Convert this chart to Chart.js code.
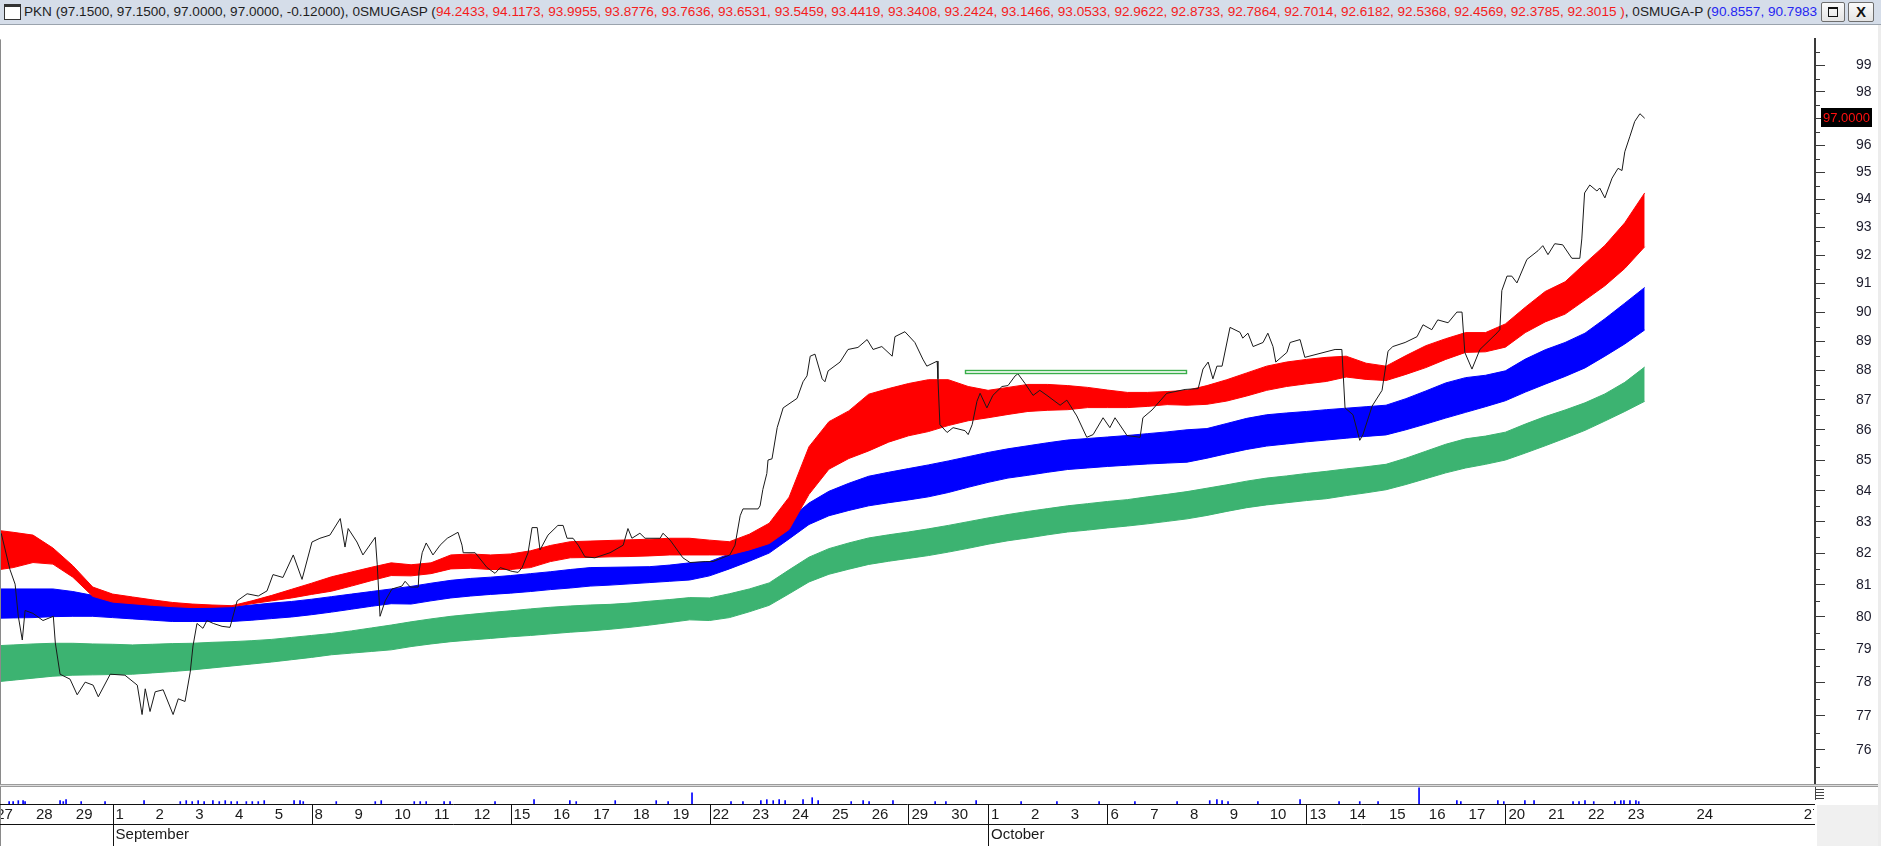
<!DOCTYPE html>
<html>
<head>
<meta charset="utf-8">
<script src="https://cdn.jsdelivr.net/npm/chart.js@4.4.1/dist/chart.umd.min.js"></script>
<style>
  html, body { margin: 0; padding: 0; background: #fff; overflow: hidden; }
  #wrap { position: relative; width: 1881px; height: 846px; }
  canvas { position: absolute; left: 0; top: 0; }
  #bar { position: absolute; left: 0; top: 0; width: 1881px; height: 24px; background: #d5dde9; border-bottom: 1px solid #9aa3ad; overflow: hidden; font-family: "Liberation Sans", Arial, sans-serif; }
  #icon { position: absolute; left: 4px; top: 4px; width: 15px; height: 12px; background: #fff; border: 1px solid #333; border-top: 3px solid #333; }
  #title { position: absolute; left: 24px; top: 0; width: 1796px; line-height: 24px; white-space: nowrap; overflow: hidden; color: #1e1e1e; font-size: 13px; }
  #title .r { color: #f41c1c; }
  #title .b { color: #2626f2; }
  .btn { position: absolute; top: 2px; height: 20px; box-sizing: border-box; background: linear-gradient(#fbfbfb, #e4e4e4); border: 1px solid #6e6e6e; border-radius: 2px; }
  #bmax { left: 1821px; width: 24px; }
  #bmax::after { content: ''; position: absolute; left: 6px; top: 4px; width: 10px; height: 10px; box-sizing: border-box; border: 1.5px solid #111; border-top-width: 2.5px; }
  #bclose { left: 1848px; width: 26px; text-align: center; line-height: 18px; font: bold 15px "Liberation Sans", Arial, sans-serif; color: #111; }
</style>
</head>
<body>
<div id="wrap">
  <canvas id="chart" width="1881" height="846"></canvas>
  <div id="bar">
    <div id="icon"></div>
    <div id="title"></div>
    <div class="btn" id="bmax"></div>
    <div class="btn" id="bclose">X</div>
  </div>
</div>
<script>
// trading days shown on the time axis (27 Aug .. 23 Oct), index = position on x
const dayLabels = ['27','28','29','1','2','3','4','5','8','9','10','11','12','15','16','17','18','19',
  '22','23','24','25','26','29','30','1','2','3','6','7','8','9','10','13','14','15','16','17','20','21','22','23'];
const weekStarts = [3, 8, 13, 18, 23, 28, 33, 38];
const monthStarts = [3, 25];
const monthNames = ['September', 'October'];
const futureLabels = ['24', '27'];
const futureAt = [42.8, 45.5];

// y axis (log scale) ticks
const yTicks = [76,77,78,79,80,81,82,83,84,85,86,87,88,89,90,91,92,93,94,95,96,97,98,99];

// header values
const quote = ['97.1500', '97.1500', '97.0000', '97.0000', '-0.12000'];
const shortLast = ['94.2433','94.1173','93.9955','93.8776','93.7636','93.6531','93.5459','93.4419','93.3408','93.2424',
  '93.1466','93.0533','92.9622','92.8733','92.7864','92.7014','92.6182','92.5368','92.4569','92.3785','92.3015'];
const longFirst = ['90.8557', '90.7983'];
const lastClose = 97.0;

// PKN intraday price (x = trading day index)
const priceT = [0.20,0.42,0.55,0.63,0.73,0.80,1.00,1.25,1.51,1.56,1.68,1.93,2.11,2.31,2.51,2.64,2.94,3.31,3.62,3.74,
  3.82,3.94,4.07,4.27,4.52,4.65,4.82,4.95,5.02,5.12,5.27,5.37,5.53,5.75,5.95,6.13,6.38,6.66,6.88,7.03,
  7.28,7.54,7.76,8.01,8.21,8.46,8.72,8.84,8.92,9.14,9.29,9.60,9.65,9.72,9.85,10.02,10.27,10.35,10.48,10.68,
  10.70,10.78,10.88,11.05,11.23,11.41,11.68,11.78,11.81,12.11,12.41,12.61,12.74,13.04,13.19,13.29,13.44,13.54,13.67,13.74,
  13.94,14.19,14.32,14.42,14.57,14.70,14.87,15.12,15.50,15.83,15.95,16.05,16.25,16.38,16.76,16.83,17.01,17.33,17.51,17.89,
  18.09,18.51,18.64,18.77,18.84,19.22,19.27,19.34,19.44,19.47,19.57,19.70,19.85,20.20,20.35,20.45,20.53,20.65,20.83,20.90,
  20.98,21.28,21.48,21.73,21.96,22.11,22.33,22.59,22.66,22.91,23.16,23.36,23.46,23.72,23.74,23.79,23.97,24.12,24.42,24.50,
  24.60,24.72,24.80,24.97,25.12,25.35,25.50,25.68,25.75,25.93,26.13,26.30,26.48,26.81,26.98,27.23,27.48,27.64,27.89,28.06,
  28.19,28.49,28.82,28.89,29.12,29.49,29.95,30.28,30.40,30.53,30.65,30.75,30.88,31.08,31.33,31.40,31.53,31.66,31.91,32.03,
  32.16,32.23,32.51,32.59,32.84,32.96,33.72,33.89,33.97,34.17,34.34,34.42,34.65,34.90,35.05,35.17,35.48,35.78,35.93,36.15,
  36.30,36.56,36.78,36.91,36.98,37.16,37.36,37.79,37.86,37.91,38.04,38.16,38.29,38.54,38.82,38.94,39.07,39.24,39.44,39.67,
  39.87,39.92,39.99,40.12,40.30,40.37,40.50,40.68,40.83,40.93,41.00,41.13,41.25,41.38,41.50];
const priceV = [82.63,81.48,81.02,80.02,79.29,80.20,80.11,79.89,80.02,79.20,78.25,78.10,77.63,78.01,77.92,77.57,78.25,78.22,77.92,77.04,
  77.81,77.13,77.72,77.78,77.04,77.51,77.43,78.31,79.11,79.80,79.65,79.89,79.80,79.71,79.68,80.50,80.72,80.65,80.81,81.32,
  81.23,81.94,81.17,82.35,82.47,82.57,83.10,82.19,82.78,82.35,81.94,82.50,81.63,80.02,80.50,80.87,80.96,81.11,80.93,80.93,
  81.42,82.01,82.32,81.94,82.25,82.47,82.66,82.25,82.01,82.01,81.54,81.36,81.54,81.42,81.39,81.54,82.01,82.81,82.81,82.10,
  82.57,82.88,82.88,82.47,82.47,82.25,81.88,81.85,82.01,82.25,82.78,82.47,82.63,82.47,82.47,82.63,82.41,81.85,81.70,81.73,
  81.73,81.94,82.25,83.19,83.41,83.41,83.51,84.04,84.56,85.00,85.04,86.07,86.73,87.05,87.61,87.81,88.48,88.55,87.71,87.61,
  87.98,88.28,88.71,88.78,89.05,88.71,88.81,88.48,89.15,89.32,88.95,88.38,88.14,88.31,87.71,86.17,85.91,86.07,85.97,85.84,
  86.17,86.95,87.22,86.73,87.15,87.45,87.48,87.81,87.88,87.55,87.15,87.32,87.15,86.82,86.99,86.46,85.75,85.84,86.40,86.07,
  86.40,85.81,85.75,86.40,86.66,87.22,87.35,87.38,88.04,88.28,87.71,88.14,88.14,89.47,89.30,89.10,89.27,88.81,88.95,89.27,
  88.81,88.28,88.61,88.95,89.05,88.44,88.71,88.71,86.73,86.50,85.65,85.84,86.79,87.32,88.65,88.81,88.95,89.15,89.56,89.39,
  89.73,89.63,90.00,90.00,88.61,88.04,88.71,89.28,89.39,90.75,91.26,91.26,91.02,91.85,92.16,92.34,92.02,92.41,92.37,91.89,
  91.89,92.58,94.24,94.53,94.31,94.42,94.06,94.78,95.14,95.06,95.75,96.33,96.88,97.17,97.00];

// moving-average ribbons, sampled every half trading day: upper and lower edge of each group
const ribbonT = Array.from({ length: 84 }, (_, k) => k / 2);
const shortTop = [82.74,82.66,82.57,82.16,81.60,80.93,80.71,80.62,80.53,80.45,80.40,80.37,80.35,80.50,80.67,80.86,81.05,81.25,81.40,81.55,
  81.69,81.63,81.69,81.94,81.97,81.94,81.97,82.07,82.24,82.36,82.38,82.40,82.42,82.44,82.47,82.47,82.41,82.36,82.60,82.95,
  83.79,85.44,86.27,86.63,87.19,87.38,87.55,87.68,87.68,87.45,87.32,87.42,87.52,87.52,87.48,87.42,87.33,87.25,87.25,87.28,
  87.32,87.48,87.68,87.91,88.14,88.28,88.37,88.44,88.48,88.24,88.14,88.50,88.84,89.08,89.29,89.29,89.59,90.17,90.72,91.06,
  91.71,92.35,93.16,94.24];
const shortBottom = [81.45,81.54,81.70,81.65,81.24,80.64,80.46,80.41,80.36,80.32,80.29,80.30,80.32,80.41,80.50,80.59,80.70,80.80,80.96,81.13,
  81.29,81.28,81.35,81.50,81.52,81.48,81.48,81.54,81.73,81.85,81.86,81.88,81.89,81.91,81.94,81.94,81.94,81.94,82.10,82.30,
  82.75,83.88,84.70,85.05,85.30,85.59,85.80,85.94,86.14,86.30,86.40,86.51,86.61,86.65,86.67,86.74,86.74,86.74,86.78,86.84,
  86.82,86.85,86.96,87.13,87.32,87.45,87.54,87.62,87.77,87.69,87.65,87.86,88.09,88.37,88.61,88.63,88.79,89.29,89.66,89.93,
  90.42,90.92,91.53,92.30];
const midTop = [80.87,80.87,80.87,80.87,80.79,80.67,80.57,80.49,80.41,80.35,80.34,80.33,80.32,80.37,80.43,80.48,80.55,80.63,80.71,80.79,
  80.87,80.95,81.05,81.14,81.20,81.24,81.29,81.35,81.41,81.48,81.54,81.55,81.56,81.57,81.62,81.69,81.73,81.97,82.23,82.53,
  83.07,83.60,83.98,84.24,84.47,84.60,84.72,84.84,84.97,85.11,85.25,85.37,85.47,85.57,85.66,85.71,85.76,85.81,85.87,85.93,
  86.00,86.04,86.21,86.38,86.50,86.56,86.61,86.67,86.72,86.77,86.82,87.04,87.30,87.57,87.75,87.83,87.98,88.38,88.70,88.95,
  89.27,89.77,90.31,90.86];
const midBottom = [79.96,79.97,79.98,80.01,80.02,80.02,79.98,79.94,79.90,79.86,79.86,79.86,79.86,79.90,79.95,80.00,80.07,80.15,80.24,80.33,
  80.41,80.40,80.50,80.59,80.65,80.70,80.74,80.79,80.85,80.90,80.96,80.99,81.03,81.07,81.11,81.15,81.28,81.50,81.74,82.00,
  82.45,82.91,83.19,83.36,83.51,83.61,83.70,83.80,83.94,84.11,84.27,84.41,84.50,84.60,84.69,84.74,84.79,84.83,84.87,84.90,
  84.93,85.06,85.21,85.35,85.46,85.53,85.60,85.66,85.72,85.78,85.83,86.00,86.19,86.39,86.58,86.77,86.97,87.26,87.53,87.79,
  88.08,88.48,88.90,89.38];
const longTop = [79.11,79.14,79.17,79.19,79.19,79.17,79.16,79.14,79.16,79.18,79.19,79.22,79.24,79.27,79.31,79.37,79.43,79.49,79.57,79.66,
  79.75,79.85,79.94,80.02,80.08,80.14,80.19,80.25,80.30,80.34,80.37,80.39,80.43,80.49,80.54,80.60,80.59,80.72,80.87,81.06,
  81.47,81.87,82.14,82.32,82.48,82.58,82.67,82.77,82.88,83.00,83.12,83.23,83.33,83.42,83.51,83.58,83.65,83.71,83.80,83.88,
  83.97,84.08,84.19,84.31,84.41,84.48,84.56,84.63,84.71,84.78,84.86,85.06,85.29,85.52,85.70,85.79,85.92,86.19,86.44,86.66,
  86.90,87.20,87.59,88.11];
const longBottom = [78.01,78.07,78.13,78.19,78.22,78.23,78.24,78.25,78.29,78.33,78.38,78.44,78.50,78.56,78.62,78.69,78.76,78.84,78.89,78.94,
  78.99,79.09,79.17,79.24,79.29,79.34,79.39,79.43,79.48,79.53,79.57,79.62,79.68,79.75,79.83,79.91,79.89,79.98,80.16,80.36,
  80.72,81.09,81.33,81.49,81.64,81.74,81.83,81.92,82.03,82.15,82.28,82.39,82.48,82.58,82.67,82.73,82.80,82.86,82.93,83.01,
  83.09,83.20,83.33,83.45,83.54,83.61,83.68,83.74,83.84,83.93,84.03,84.20,84.39,84.58,84.74,84.86,85.00,85.23,85.47,85.72,
  85.98,86.29,86.61,86.95];

// volume ticks in the small lower pane
const volT = [0.40,0.50,0.63,0.75,0.80,1.68,1.76,1.83,2.21,2.81,3.79,4.70,4.85,5.00,5.15,5.30,5.52,5.68,5.83,5.98,
  6.13,6.36,6.51,6.66,6.81,7.56,7.71,7.79,8.62,9.60,9.75,10.58,10.73,10.88,11.33,11.48,12.61,13.59,14.49,14.65,
  15.63,16.66,16.96,17.56,18.54,18.84,19.29,19.44,19.60,19.75,19.90,20.35,20.58,20.73,21.56,21.86,22.01,22.61,23.67,23.94,
  24.70,25.83,26.73,27.79,28.69,29.75,30.57,30.75,30.88,31.03,31.78,32.84,33.82,34.34,34.80,35.83,36.78,36.88,37.81,37.96,
  38.49,38.72,39.70,39.85,40.00,40.22,40.75,40.90,40.98,41.13,41.28,41.35];
const volV = [2,2,3,3,2,3,2,4,2,2,3,2,3,2,3,2,3,2,3,2,
  2,2,2,2,3,3,3,2,2,2,3,2,2,2,2,2,2,4,3,2,
  3,3,2,11,2,2,3,4,3,4,3,4,6,3,2,3,2,3,2,2,
  3,2,2,2,2,2,3,4,3,2,2,4,2,2,2,16,3,2,3,2,
  3,3,2,2,3,2,2,3,3,3,3,2];

// horizontal level marker drawn on the chart
const markerFrom = 24.42, markerTo = 29.97, markerHigh = 88.0, markerLow = 87.9;

// ---- header text ----
const title = document.getElementById('title');
title.innerHTML = 'PKN (' + quote.join(', ') + '), 0SMUGASP (<span class="r">' + shortLast.join(', ') +
  ' )</span>, 0SMUGA-P (<span class="b">' + longFirst.join(', ') + '</span>';
const mctx = document.createElement('canvas').getContext('2d');
mctx.font = '13px "Liberation Sans"';
title.style.fontSize = (13 * 1795 / mctx.measureText(title.textContent).width).toFixed(2) + 'px';

const pts = (xs, ys) => ys.map((v, i) => ({ x: xs[i], y: v }));
const band = (color, top, bottom) => [
  { data: pts(ribbonT, top), borderColor: color, borderWidth: 1, fill: false },
  { data: pts(ribbonT, bottom), borderColor: color, borderWidth: 1, backgroundColor: color, fill: '-1' }
];

const panels = {
  id: 'panels',
  afterDraw(chart) {
    const { ctx, chartArea: a } = chart;
    const xs = chart.scales.x, ys = chart.scales.y;
    const px = v => xs.getPixelForValue(v);
    const W = chart.width, H = chart.height;
    ctx.save();

    // left border of the window panes
    ctx.fillStyle = '#8a8a8a';
    ctx.fillRect(0, a.top, 1, H - a.top);

    // level marker
    const mx1 = Math.round(px(markerFrom)) + 0.5, mx2 = Math.round(px(markerTo)) + 0.5;
    const my1 = Math.round(ys.getPixelForValue(markerHigh)) + 0.5, my2 = Math.round(ys.getPixelForValue(markerLow)) + 0.5;
    ctx.fillStyle = '#fff';
    ctx.fillRect(mx1, my1, mx2 - mx1, my2 - my1);
    ctx.strokeStyle = '#3aae4a';
    ctx.lineWidth = 1.4;
    ctx.strokeRect(mx1, my1, mx2 - mx1, my2 - my1);

    // minor ticks at half units
    ctx.strokeStyle = '#3a3a3a';
    ctx.lineWidth = 1;
    ctx.beginPath();
    for (let v = 75.5; v < 100; v += 1) {
      const yy = Math.round(ys.getPixelForValue(v)) + 0.5;
      ctx.moveTo(a.right, yy); ctx.lineTo(a.right + 5, yy);
    }
    ctx.stroke();

    // last price tag
    const ly = Math.round(ys.getPixelForValue(lastClose));
    ctx.fillStyle = '#000';
    ctx.fillRect(a.right + 6, ly - 10, 51, 19);
    ctx.fillStyle = '#ff1010';
    ctx.font = '13px "Liberation Sans"';
    ctx.textAlign = 'center';
    ctx.textBaseline = 'middle';
    ctx.fillText(lastClose.toFixed(4), a.right + 31.5, ly);

    // pane separator
    ctx.fillStyle = '#9c9c9c';
    ctx.fillRect(0, a.bottom, W, 1);
    ctx.fillRect(0, a.bottom + 2, W, 1);
    ctx.fillStyle = '#dcdcdc';
    ctx.fillRect(0, a.bottom + 1, W, 1);

    // grip at the right of the volume pane
    ctx.strokeStyle = '#444';
    ctx.beginPath();
    ctx.moveTo(a.right + 0.5, a.bottom + 3); ctx.lineTo(a.right + 0.5, a.bottom + 16);
    for (let i = 0; i < 4; i++) {
      const gy = a.bottom + 5.5 + i * 3;
      ctx.moveTo(a.right, gy); ctx.lineTo(a.right + 9, gy);
    }
    ctx.stroke();

    // date rows
    const r1 = 804, r2 = 824;
    ctx.fillStyle = '#f0f0f0';
    ctx.fillRect(a.right + 2, r1 + 1, W - a.right - 2, H - r1);
    ctx.strokeStyle = '#111';
    ctx.beginPath();
    ctx.moveTo(0, r1 + 0.5); ctx.lineTo(a.right, r1 + 0.5);
    ctx.moveTo(0, r2 + 0.5); ctx.lineTo(a.right, r2 + 0.5);
    weekStarts.concat(monthStarts).forEach(i => {
      const sx = Math.round(px(i)) + 0.5;
      ctx.moveTo(sx, r1); ctx.lineTo(sx, r2);
    });
    monthStarts.forEach(i => {
      const sx = Math.round(px(i)) + 0.5;
      ctx.moveTo(sx, r2); ctx.lineTo(sx, H);
    });
    ctx.stroke();

    ctx.beginPath();
    ctx.rect(1, r1, a.right - 2, H - r1);
    ctx.clip();
    ctx.fillStyle = '#1a1a1a';
    ctx.textAlign = 'left';
    ctx.textBaseline = 'middle';
    ctx.font = '15px "Liberation Sans"';
    dayLabels.forEach((d, i) => ctx.fillText(d, px(i) + 3, 815));
    futureLabels.forEach((d, i) => ctx.fillText(d, px(futureAt[i]), 815));
    monthNames.forEach((m, i) => ctx.fillText(m, px(monthStarts[i]) + 3, 835));

    ctx.restore();

    // thin strip at the right window edge
    ctx.fillStyle = '#ececec';
    ctx.fillRect(W - 3, 25, 3, H - 25);
  }
};

new Chart(document.getElementById('chart'), {
  type: 'line',
  data: {
    datasets: [
      { data: pts(priceT, priceV), borderColor: '#1a1a1a', borderWidth: 1, fill: false },
      ...band('#ff0000', shortTop, shortBottom),
      ...band('#0000ff', midTop, midBottom),
      ...band('#3cb371', longTop, longBottom),
      { type: 'bar', data: pts(volT, volV), yAxisID: 'yVol', backgroundColor: '#0000ff',
        barThickness: 1, base: 0, clip: false }
    ]
  },
  options: {
    responsive: false,
    devicePixelRatio: 1,
    animation: false,
    events: [],
    layout: { padding: { top: 23, bottom: 62, left: 0, right: 0 } },
    elements: { point: { radius: 0 }, line: { tension: 0 } },
    plugins: { legend: { display: false }, tooltip: { enabled: false } },
    scales: {
      x: { type: 'linear', min: 0.17, max: 45.78, offset: false, display: false, grid: { offset: false } },
      y: {
        type: 'logarithmic', position: 'right', min: 75, max: 100,
        afterBuildTicks: s => { s.ticks = yTicks.map(v => ({ value: v })); },
        afterFit: s => { s.width = 66; },
        border: { color: '#3a3a3a', width: 2 },
        grid: { drawOnChartArea: false, tickLength: 10, tickColor: '#3a3a3a', tickWidth: 1 },
        ticks: {
          autoSkip: false, crossAlign: 'near', padding: 31, color: '#1c1c2c',
          font: { family: 'Liberation Sans', size: 14 },
          callback: v => v === lastClose ? '' : String(v)
        }
      },
      yVol: { type: 'linear', display: false, min: 20, max: 781 }
    }
  },
  plugins: [panels]
});
</script>
</body>
</html>
